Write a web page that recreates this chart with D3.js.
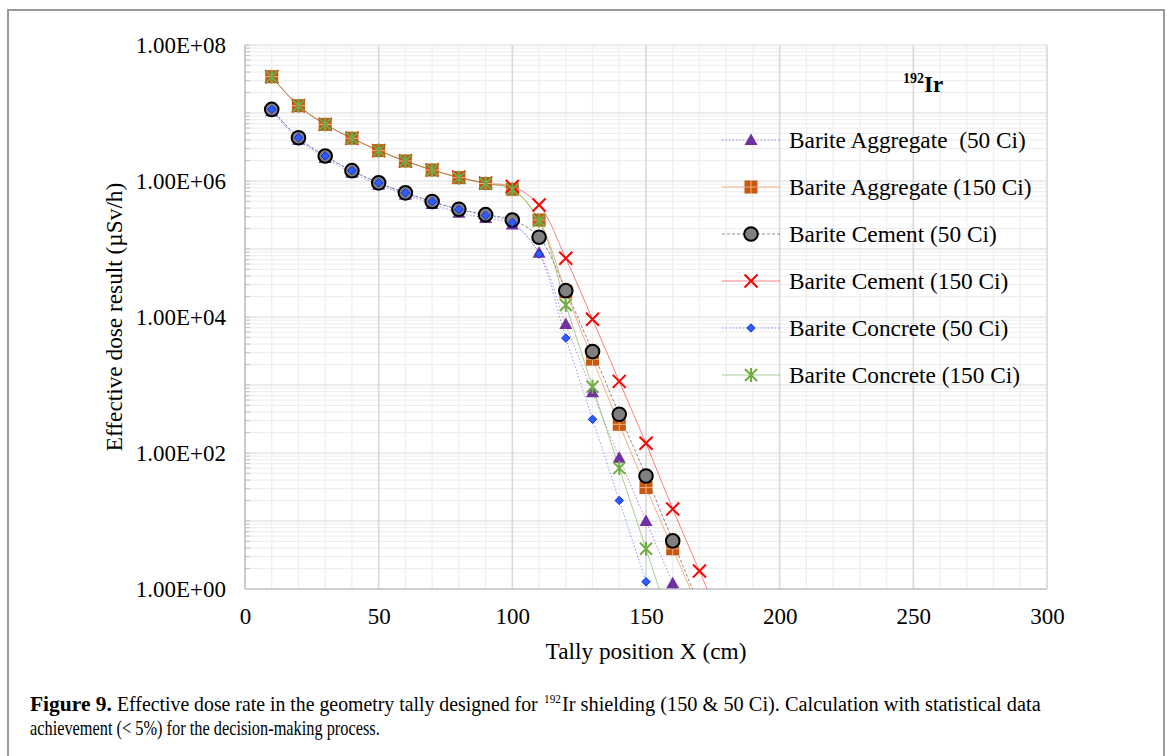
<!DOCTYPE html>
<html>
<head>
<meta charset="utf-8">
<script src="https://cdn.jsdelivr.net/npm/d3@7"></script>
<style>
  html, body { margin: 0; padding: 0; background: #fff; }
  svg { display: block; font-family: "Liberation Serif", "Times New Roman", serif; }
</style>
</head>
<body>
<svg id="chart" width="1170" height="756"></svg>
<script>
// Tally positions along X (cm)
const positions = [10, 20, 30, 40, 50, 60, 70, 80, 90, 100, 110, 120, 130, 140, 150, 160, 170, 180];

// Effective dose rate (µSv/h) per shielding material and source activity
const aggregate50  = [1.06e7, 4.05e6, 2.18e6, 1.32e6, 8.8e5, 6.3e5, 4.6e5, 3.4e5, 2.85e5, 2.3e5, 8.8e4, 7.9e3, 780, 85, 10, 1.21, 0.145];
const aggregate150 = [3.42e7, 1.28e7, 6.8e6, 4.25e6, 2.8e6, 1.97e6, 1.45e6, 1.12e6, 9.2e5, 7.55e5, 2.67e5, 2.35e4, 2.4e3, 264, 31, 3.9, 0.49];
const cement50     = [1.13e7, 4.33e6, 2.33e6, 1.42e6, 9.4e5, 6.7e5, 5.0e5, 3.85e5, 3.2e5, 2.67e5, 1.49e5, 2.44e4, 3.1e3, 371, 46, 5.1, 0.56];
const cement150    = [3.42e7, 1.28e7, 6.8e6, 4.25e6, 2.8e6, 1.97e6, 1.45e6, 1.14e6, 9.3e5, 8.3e5, 4.44e5, 7.3e4, 9.25e3, 1.13e3, 139, 15, 1.84, 0.22];
const concrete50   = [1.13e7, 4.33e6, 2.33e6, 1.42e6, 9.4e5, 6.7e5, 4.96e5, 3.8e5, 3.12e5, 2.44e5, 8.4e4, 4.9e3, 313, 20, 1.28, 0.083];
const concrete150  = [3.42e7, 1.28e7, 6.8e6, 4.25e6, 2.8e6, 1.97e6, 1.45e6, 1.12e6, 9.2e5, 7.55e5, 2.6e5, 1.5e4, 944, 60, 3.9, 0.25];

const seriesNames = [
  "Barite Aggregate  (50 Ci)",
  "Barite Aggregate (150 Ci)",
  "Barite Cement (50 Ci)",
  "Barite Cement (150 Ci)",
  "Barite Concrete (50 Ci)",
  "Barite Concrete (150 Ci)"
];

// Axis ticks
const xTickValues = [0, 50, 100, 150, 200, 250, 300];
const yTickValues = [1, 1e2, 1e4, 1e6, 1e8];
const yTickLabels = ["1.00E+00", "1.00E+02", "1.00E+04", "1.00E+06", "1.00E+08"];

// Visual styling per series
const styles = [
  { values: aggregate50,  marker: "triangle", line: "#7030A0", dash: "1.5 2", lineOpacity: 0.55 },
  { values: aggregate150, marker: "square",   line: "#ED7D31", dash: null,    lineOpacity: 0.6 },
  { values: cement50,     marker: "circle",   line: "#404040", dash: "3 2",   lineOpacity: 0.6 },
  { values: cement150,    marker: "cross",    line: "#FF0000", dash: null,    lineOpacity: 0.5 },
  { values: concrete50,   marker: "diamond",  line: "#3344FF", dash: "1.5 2", lineOpacity: 0.55 },
  { values: concrete150,  marker: "asterisk", line: "#70AD47", dash: null,    lineOpacity: 0.6 }
];

const svg = d3.select("#chart");
const plot = { left: 245, right: 1047, top: 45, bottom: 589 };

const x = d3.scaleLinear().domain([0, 300]).range([plot.left, plot.right]);
const y = d3.scaleLog().domain([1, 1e8]).range([plot.bottom, plot.top]);

// Outer figure frame
svg.append("rect")
  .attr("x", 8).attr("y", 10).attr("width", 1156).attr("height", 760)
  .attr("fill", "none").attr("stroke", "#9a9a9a").attr("stroke-width", 2);

// Gridlines
const grid = svg.append("g");
const minorX = d3.range(10, 300, 10).filter(v => v % 50 !== 0);
const majorX = [50, 100, 150, 200, 250, 300];
const minorY = [];
for (let e = 0; e < 8; e++) for (let k = 2; k <= 9; k++) minorY.push(k * Math.pow(10, e));
const majorY = [1e1, 1e2, 1e3, 1e4, 1e5, 1e6, 1e7, 1e8];

grid.selectAll(".mnx").data(minorX).join("line")
  .attr("x1", d => x(d)).attr("x2", d => x(d))
  .attr("y1", plot.top).attr("y2", plot.bottom)
  .attr("stroke", "#efefef").attr("stroke-width", 1.3);
grid.selectAll(".mny").data(minorY).join("line")
  .attr("x1", plot.left).attr("x2", plot.right)
  .attr("y1", d => y(d)).attr("y2", d => y(d))
  .attr("stroke", "#efefef").attr("stroke-width", 1.3);
grid.selectAll(".mjy").data(majorY).join("line")
  .attr("x1", plot.left).attr("x2", plot.right)
  .attr("y1", d => y(d)).attr("y2", d => y(d))
  .attr("stroke", "#e6e6e6").attr("stroke-width", 1.5);
grid.selectAll(".mjx").data(majorX).join("line")
  .attr("x1", d => x(d)).attr("x2", d => x(d))
  .attr("y1", plot.top).attr("y2", plot.bottom)
  .attr("stroke", "#d9d9d9").attr("stroke-width", 1.6);

// Short tick marks just inside the vertical axis
grid.selectAll(".tk").data(minorY.concat(majorY)).join("line")
  .attr("x1", plot.left).attr("x2", plot.left + 5)
  .attr("y1", d => y(d)).attr("y2", d => y(d))
  .attr("stroke", "#c8c8c8").attr("stroke-width", 1.2);

// Axis lines
svg.append("line").attr("x1", plot.left).attr("x2", plot.left)
  .attr("y1", plot.top).attr("y2", plot.bottom)
  .attr("stroke", "#bfbfbf").attr("stroke-width", 1.6);
svg.append("line").attr("x1", plot.left).attr("x2", plot.right)
  .attr("y1", plot.bottom).attr("y2", plot.bottom)
  .attr("stroke", "#bfbfbf").attr("stroke-width", 1.6);

// Tick labels via d3 axes
const yAxis = svg.append("g").attr("transform", `translate(${plot.left},0)`)
  .call(d3.axisLeft(y).tickValues(yTickValues)
    .tickFormat((d, i) => yTickLabels[i]).tickSize(0).tickPadding(19));
const xAxis = svg.append("g").attr("transform", `translate(0,${plot.bottom})`)
  .call(d3.axisBottom(x).tickValues(xTickValues).tickFormat(d3.format("d"))
    .tickSize(0).tickPadding(19));
[yAxis, xAxis].forEach(a => {
  a.select(".domain").remove();
  a.selectAll("text")
    .attr("font-family", '"Liberation Serif", "Times New Roman", serif')
    .attr("font-size", 23).attr("fill", "#000");
});

// Axis titles
svg.append("text")
  .attr("x", (plot.left + plot.right) / 2).attr("y", 659)
  .attr("text-anchor", "middle").attr("font-size", 23.3).attr("fill", "#000")
  .text("Tally position X (cm)");
svg.append("text")
  .attr("transform", `translate(122,${(plot.top + plot.bottom) / 2}) rotate(-90)`)
  .attr("text-anchor", "middle").attr("font-size", 23.3).attr("fill", "#000")
  .text("Effective dose result (µSv/h)");

// Marker drawing
function drawMarker(sel, type) {
  switch (type) {
    case "triangle":
      sel.append("path").attr("d", "M0,-6.5L6.5,5L-6.5,5Z").attr("fill", "#7030A0");
      break;
    case "square":
      sel.append("rect").attr("x", -6.5).attr("y", -6.5).attr("width", 13).attr("height", 13)
        .attr("fill", "#C65911");
      sel.append("path").attr("d", "M0,-6.5V6.5M-6.5,0H6.5")
        .attr("stroke", "#F4B183").attr("stroke-width", 1);
      break;
    case "circle":
      sel.append("circle").attr("r", 6.8).attr("fill", "#808080")
        .attr("stroke", "#000").attr("stroke-width", 2);
      break;
    case "cross":
      sel.append("path").attr("d", "M-6.5,-6.5L6.5,6.5M-6.5,6.5L6.5,-6.5")
        .attr("stroke", "#FF0000").attr("stroke-width", 2);
      break;
    case "diamond":
      sel.append("path").attr("d", "M0,-4.2L4.2,0L0,4.2L-4.2,0Z")
        .attr("fill", "#2f5bff").attr("stroke", "#0a2fe0").attr("stroke-width", 1);
      break;
    case "asterisk":
      sel.append("path").attr("d", "M-6,-6L6,6M-6,6L6,-6M0,-7V7")
        .attr("stroke", "#70AD47").attr("stroke-width", 2);
      break;
  }
}

// Series lines (clipped to the plotting area) and markers
svg.append("clipPath").attr("id", "plotclip").append("rect")
  .attr("x", plot.left).attr("y", plot.top)
  .attr("width", plot.right - plot.left).attr("height", plot.bottom - plot.top);

const line = d3.line()
  .x(d => x(d.pos)).y(d => y(d.val))
  .curve(d3.curveCatmullRom.alpha(0.5));

const linesG = svg.append("g").attr("clip-path", "url(#plotclip)");
const markersG = svg.append("g");

styles.forEach(s => {
  const pts = s.values.map((v, j) => ({ pos: positions[j], val: v }));
  linesG.append("path")
    .attr("d", line(pts))
    .attr("fill", "none")
    .attr("stroke", s.line)
    .attr("stroke-opacity", s.lineOpacity)
    .attr("stroke-width", 1)
    .attr("stroke-dasharray", s.dash);
});

styles.forEach(s => {
  const pts = s.values.map((v, j) => ({ pos: positions[j], val: v })).filter(p => p.val >= 1);
  markersG.selectAll(null).data(pts).join("g")
    .attr("transform", p => `translate(${x(p.pos)},${y(p.val)})`)
    .each(function () { drawMarker(d3.select(this), s.marker); });
});

// Legend
const legend = svg.append("g");
const title = legend.append("text").attr("y", 92).attr("font-weight", "bold").attr("fill", "#000");
title.append("tspan").attr("x", 903).attr("font-size", 14).attr("dy", -9).text("192");
title.append("tspan").attr("font-size", 23).attr("dy", 9).text("Ir");

seriesNames.forEach((name, i) => {
  const cy = 140 + i * 47;
  const s = styles[i];
  legend.append("line")
    .attr("x1", 722).attr("x2", 780).attr("y1", cy).attr("y2", cy)
    .attr("stroke", s.line).attr("stroke-opacity", s.lineOpacity)
    .attr("stroke-width", 1).attr("stroke-dasharray", s.dash);
  const m = legend.append("g").attr("transform", `translate(751,${cy})`);
  drawMarker(m, s.marker);
  legend.append("text")
    .attr("x", 789).attr("y", cy).attr("dy", "0.35em")
    .attr("font-size", 23.3).attr("fill", "#000")
    .style("white-space", "pre")
    .text(name);
});

// Figure caption: each run of text is fitted horizontally to its span
const captionRuns = [
  { text: "Figure 9.", bold: true, size: 20, x0: 30, x1: 112, base: 711 },
  { text: "Effective dose rate in the geometry tally designed for", bold: false, size: 20, x0: 117, x1: 538, base: 711 },
  { text: "192", bold: false, size: 13, x0: 544, x1: 561, base: 703 },
  { text: "Ir shielding (150 & 50 Ci). Calculation with statistical data", bold: false, size: 20, x0: 562, x1: 1041, base: 711 },
  { text: "achievement (< 5%) for the decision-making process.", bold: false, size: 20, x0: 30, x1: 380, base: 735 }
];
captionRuns.forEach(r => {
  const g = svg.append("g");
  const t = g.append("text").attr("font-size", r.size).attr("fill", "#000")
    .attr("font-weight", r.bold ? "bold" : "normal").text(r.text);
  const w = t.node().getComputedTextLength();
  g.attr("transform", `translate(${r.x0},${r.base}) scale(${(r.x1 - r.x0) / w},1)`);
});
</script>
</body>
</html>
